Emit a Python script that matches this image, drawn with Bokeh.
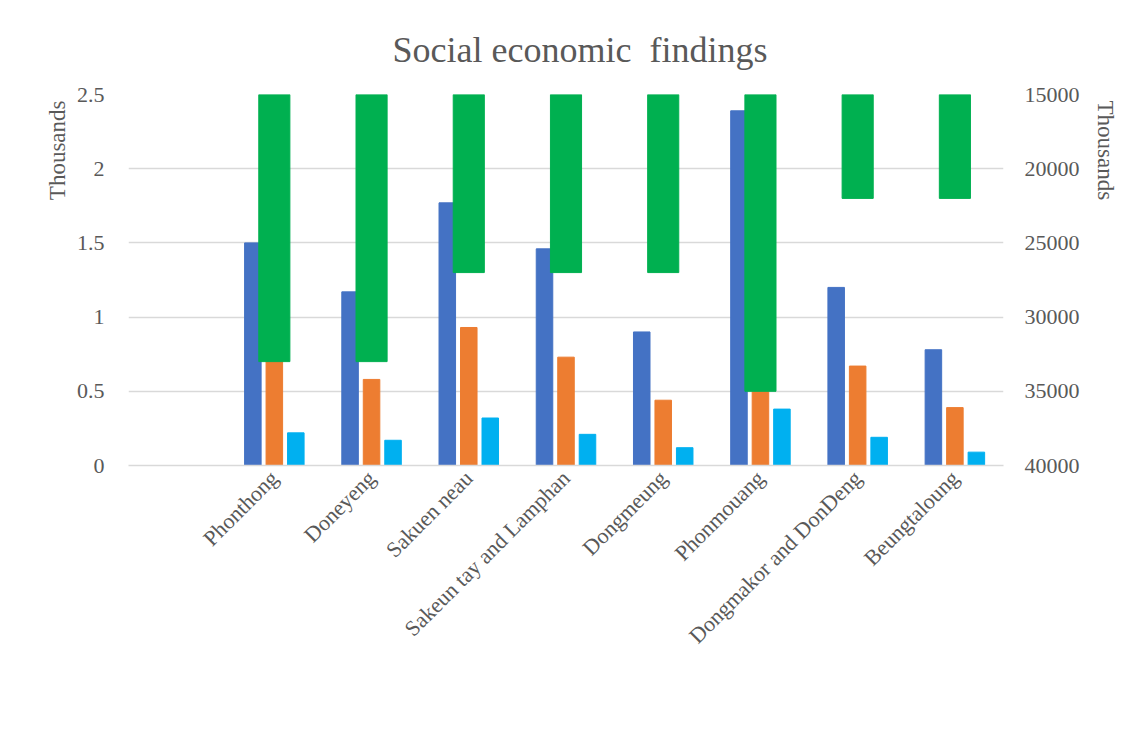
import math
from bokeh.plotting import figure
from bokeh.models import (ColumnDataSource, FactorRange, Range1d, LinearAxis, Legend, LegendItem,
                          FixedTicker, CustomJSTickFormatter, Title)
from bokeh.transform import dodge
from bokeh.embed import file_html
from bokeh.resources import INLINE

categories = ["Phonthong", "Doneyeng", "Sakuen neau", "Sakeun tay and Lamphan",
              "Dongmeung", "Phonmouang", "Dongmakor and DonDeng", "Beungtaloung"]
population = [1.50, 1.17, 1.77, 1.46, 0.90, 2.39, 1.20, 0.78]      # thousands
female = [0.75, 0.58, 0.93, 0.73, 0.44, 1.20, 0.67, 0.39]          # thousands
households = [0.22, 0.17, 0.32, 0.21, 0.12, 0.38, 0.19, 0.09]      # thousands
income = [33000, 33000, 27000, 27000, 27000, 35000, 22000, 22000]  # thousands
income_base = [15000] * len(categories)
left_ticks = [0, 0.5, 1, 1.5, 2, 2.5]
right_ticks = [15000, 20000, 25000, 30000, 35000, 40000]

FONT = "Liberation Serif"
GRAY = "#595959"

factors = [" "] + categories
src = ColumnDataSource(dict(cat=categories, pop=population, fem=female, hh=households,
                            inc=income, base=income_base))

p = figure(x_range=FactorRange(*factors, range_padding=0), y_range=Range1d(0, 2.5),
           frame_width=875, frame_height=371, output_backend="svg", toolbar_location=None,
           min_border_left=128, min_border_right=135, min_border_top=94, min_border_bottom=0)
p.extra_y_ranges = {"income": Range1d(start=40000, end=15000)}

p.title.text = "Social economic\u00a0 findings"
p.title.text_font = FONT
p.title.text_font_size = "36px"
p.title.text_font_style = "normal"
p.title.text_color = GRAY
p.title.align = "left"
p.title.offset = 264
p.title.standoff = 50

p.outline_line_color = None
p.xgrid.grid_line_color = None
p.ygrid.grid_line_color = "#d9d9d9"
p.ygrid.grid_line_width = 1.3
p.ygrid.ticker = FixedTicker(ticks=left_ticks)

r_pop = p.vbar(x=dodge("cat", -0.221, range=p.x_range), top="pop", width=0.17, source=src,
               fill_color="#4472C4", line_color="#4472C4")
r_fem = p.vbar(x=dodge("cat", 0.0, range=p.x_range), top="fem", width=0.17, source=src,
               fill_color="#ED7D31", line_color="#ED7D31")
r_hh = p.vbar(x=dodge("cat", 0.221, range=p.x_range), top="hh", width=0.17, source=src,
              fill_color="#00B0F0", line_color="#00B0F0")
r_inc = p.vbar(x="cat", top="base", bottom="inc", width=0.32, source=src, y_range_name="income",
               fill_color="#00B050", line_color="#00B050")

# left axis
ya = p.yaxis[0]
ya.ticker = FixedTicker(ticks=left_ticks)
ya.formatter = CustomJSTickFormatter(code="return tick.toString();")
ya.axis_line_color = None
ya.major_tick_line_color = None
ya.minor_tick_line_color = None
ya.major_label_text_font = FONT
ya.major_label_text_font_size = "22px"
ya.major_label_text_color = GRAY
ya.major_label_standoff = 18

# right axis
ra = LinearAxis(y_range_name="income", ticker=FixedTicker(ticks=right_ticks))
ra.axis_line_color = None
ra.major_tick_line_color = None
ra.minor_tick_line_color = None
ra.major_label_text_font = FONT
ra.major_label_text_font_size = "22px"
ra.major_label_text_color = GRAY
ra.major_label_standoff = 15
p.add_layout(ra, "right")

# x axis
xa = p.xaxis[0]
xa.axis_line_color = "#d9d9d9"
xa.axis_line_width = 1.3
xa.major_tick_line_color = None
xa.minor_tick_line_color = None
xa.major_tick_out = 0
xa.major_tick_in = 0
xa.minor_tick_out = 0
xa.axis_label_standoff = 0
xa.major_label_orientation = math.pi / 4
xa.major_label_text_font = FONT
xa.major_label_text_font_size = "22px"
xa.major_label_text_color = GRAY
xa.major_label_standoff = 9

# "Thousands" axis titles at the top of each side
p.add_layout(Title(text="Thousands", align="right", offset=6, standoff=8, text_font=FONT,
                   text_font_size="23px", text_font_style="normal", text_color=GRAY), "left")
p.add_layout(Title(text="Thousands", align="left", offset=6, standoff=20, text_font=FONT,
                   text_font_size="23px", text_font_style="normal", text_color=GRAY), "right")

legend = Legend(items=[LegendItem(label="Population", renderers=[r_pop]),
                       LegendItem(label="Female", renderers=[r_fem]),
                       LegendItem(label="House holds", renderers=[r_hh]),
                       LegendItem(label="Income/year/person", renderers=[r_inc])],
                orientation="horizontal", location=(130, 37))
legend.border_line_color = None
legend.background_fill_alpha = 0
legend.glyph_width = 11
legend.glyph_height = 11
legend.label_standoff = 6
legend.spacing = 26
legend.margin = 0
legend.padding = 0
legend.label_text_font = FONT
legend.label_text_font_size = "22px"
legend.label_text_color = GRAY
p.add_layout(legend, "below")

open("out.html", "w").write(file_html(p, INLINE))
